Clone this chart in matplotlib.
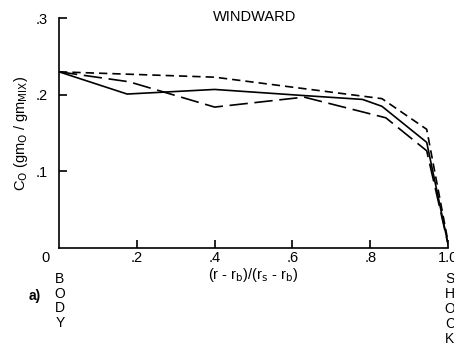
import matplotlib.pyplot as plt

plt.rcParams['font.family'] = ['Liberation Sans', 'DejaVu Sans']

# radial position (r-rb)/(rs-rb) and mass fraction of O for three cases
x_solid = [0.0, 0.175, 0.40, 0.63, 0.78, 0.83, 0.945, 1.0]
y_solid = [0.230, 0.201, 0.207, 0.199, 0.194, 0.185, 0.138, 0.005]

x_short = [0.0, 0.40, 0.83, 0.945, 1.0]
y_short = [0.230, 0.223, 0.195, 0.155, 0.008]

x_long = [0.0, 0.18, 0.40, 0.63, 0.84, 0.945, 1.0]
y_long = [0.230, 0.217, 0.184, 0.197, 0.170, 0.127, 0.005]

xticks = [0.2, 0.4, 0.6, 0.8, 1.0]
xtick_labels = ['.2', '.4', '.6', '.8', '1.0']
yticks = [0.1, 0.2, 0.3]
ytick_labels = ['.1', '.2', '.3']

fig = plt.figure(figsize=(4.54, 3.49), dpi=100)
ax = fig.add_axes([0.130, 0.289, 0.857, 0.659])

ax.plot(x_solid, y_solid, color='black', lw=1.2)
ax.plot(x_short, y_short, color='black', lw=1.2, dashes=(5, 3))
ax.plot(x_long, y_long, color='black', lw=1.2, dashes=(11, 4))

ax.set_xlim(0, 1.0)
ax.set_ylim(0, 0.3)
ax.spines['top'].set_visible(False)
ax.spines['right'].set_visible(False)
ax.spines['left'].set_linewidth(1.2)
ax.spines['bottom'].set_linewidth(1.2)

ax.set_xticks(xticks)
ax.set_xticklabels(xtick_labels)
ax.set_yticks(yticks)
ax.set_yticklabels(ytick_labels)
ax.tick_params(direction='in', length=6, width=1.2, labelsize=10.5)
ax.tick_params(axis='x', pad=2)
ax.tick_params(axis='y', pad=8)

ax.text(-0.035, -0.004, '0', transform=ax.transData, ha='center', va='top',
        fontsize=10.5, clip_on=False)

fig.text(255 / 454, 1 - 17 / 349, 'WINDWARD', ha='center', va='center',
         fontsize=10.5)
ax.set_xlabel(r'(r - r$_{\mathrm{b}}$)/(r$_{\mathrm{s}}$ - r$_{\mathrm{b}}$)',
              fontsize=10.5, labelpad=1)
ax.set_ylabel(r'C$_{\mathrm{O}}$ (gm$_{\mathrm{O}}$ / gm$_{\mathrm{MIX}}$)',
              fontsize=10.5, labelpad=4)

fig.text(60 / 454, 1 - 301 / 349, 'B\nO\nD\nY', ha='center', va='center',
         fontsize=10, linespacing=1.05)
fig.text(450 / 454, 1 - 309 / 349, 'S\nH\nO\nC\nK', ha='center', va='center',
         fontsize=10, linespacing=1.1)
fig.text(35 / 454, 1 - 296 / 349, 'a)', ha='center', va='center',
         fontsize=10, fontweight='bold')

fig.savefig('out.png', dpi=100)
